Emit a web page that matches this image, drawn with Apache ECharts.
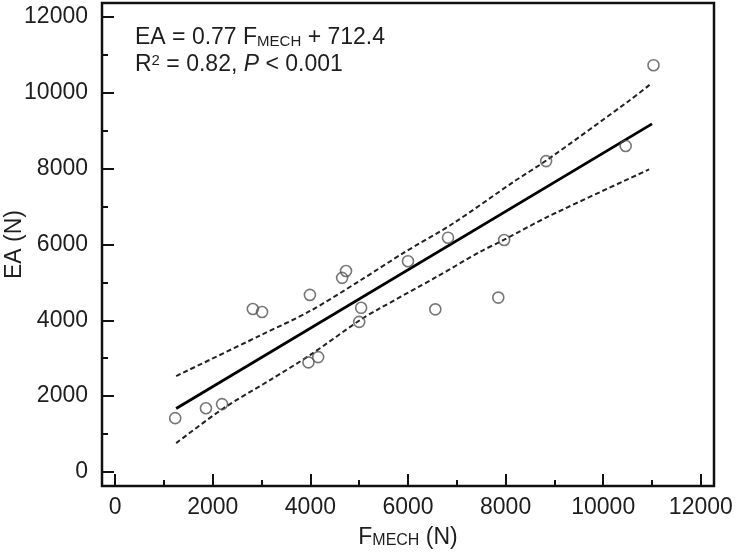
<!DOCTYPE html>
<html>
<head>
<meta charset="utf-8">
<script src="https://cdn.jsdelivr.net/npm/echarts@6/dist/echarts.min.js"></script>
<style>
  html,body{margin:0;padding:0;background:#fff;}
  #chart{width:740px;height:558px;}
</style>
</head>
<body>
<div id="chart"></div>
<script>
// measured points (F_MECH, EA)
var fMech = [1230, 1860, 2190, 2820, 3010, 3990, 3960, 4160, 5040, 5000, 4650, 4730, 6000, 6820, 7970, 6560, 7850, 8830, 10460, 11030];
var eaVal = [1420, 1680, 1790, 4300, 4220, 4670, 2890, 3030, 4330, 3960, 5120, 5300, 5560, 6180, 6120, 4290, 4600, 8200, 8600, 10730];

// fitted line
var fitX = [1250, 11000];
var fitY = [1675, 9182];

// confidence band
var upperX = [1250, 2970, 4000, 5020, 5910, 6930, 8160, 8850, 10550, 10950];
var upperY = [2530, 3600, 4250, 5050, 5780, 6560, 7650, 8230, 9810, 10210];
var lowerX = [1250, 2220, 3180, 4000, 5020, 5360, 6590, 7480, 7960, 8910, 10940];
var lowerY = [760, 1680, 2430, 3090, 4010, 4270, 5150, 5810, 6120, 6760, 7980];

var majorTicks = [0, 2000, 4000, 6000, 8000, 10000, 12000];
var minorTicks = [1000, 3000, 5000, 7000, 9000, 11000];

function pairs(xs, ys){
    var out = [];
    for (var i = 0; i < xs.length; i++) out.push([xs[i], ys[i]]);
    return out;
}

var font = "'Liberation Sans', Arial, sans-serif";
var ink = '#1e1e1e';

function axis(kind, lo, hi, isMajor, extra){
    var a = {
        type: 'value',
        gridIndex: 0,
        min: lo,
        max: hi,
        position: kind == 'x' ? 'bottom' : 'left',
        offset: 0,
        axisLine: {show: false, onZero: false},
        splitLine: {show: false},
        axisTick: {
            show: true, inside: true,
            length: isMajor ? 12 : 6,
            customValues: isMajor ? majorTicks : minorTicks,
            lineStyle: {color: '#111', width: 2}
        },
        axisLabel: isMajor ? {
            show: true,
            customValues: majorTicks,
            color: ink, fontSize: 23, fontFamily: font,
            margin: kind == 'x' ? 10 : 14,
            formatter: function(v){ return String(v); }
        } : {show: false}
    };
    return Object.assign(a, extra || {});
}

var chart = echarts.init(document.getElementById('chart'));
chart.setOption({
    animation: false,
    backgroundColor: '#fff',
    textStyle: {fontFamily: font},
    grid: {
        left: 102, right: 26, top: 3, bottom: 72,
        containLabel: false,
        outerBoundsMode: 'none',
        show: true, borderColor: '#111', borderWidth: 2.5, backgroundColor: 'transparent'
    },
    xAxis: [
        axis('x', -270, 12270, true, {
            name: 'F{sub|MECH} (N)',
            nameLocation: 'middle',
            nameGap: 40,
            nameMoveOverlap: false,
            nameTextStyle: {
                color: ink, fontSize: 23, fontFamily: font,
                rich: {sub: {fontSize: 16, color: ink, verticalAlign: 'bottom', lineHeight: 12, fontFamily: font}}
            }
        }),
        axis('x', -270, 12270, false)
    ],
    yAxis: [
        axis('y', -370, 12370, true, {
            name: 'EA (N)',
            nameLocation: 'middle',
            nameGap: 76,
            nameMoveOverlap: false,
            nameTextStyle: {color: ink, fontSize: 23, fontFamily: font}
        }),
        axis('y', -370, 12370, false)
    ],
    graphic: [
        {
            type: 'text',
            left: 135,
            top: 26,
            style: {
                text: 'EA = 0.77 F{sub|MECH} + 712.4',
                fontSize: 23,
                fontFamily: font,
                fill: ink,
                rich: {sub: {fontSize: 15, fill: ink, verticalAlign: 'bottom', lineHeight: 12, fontFamily: font}}
            }
        },
        {
            type: 'text',
            left: 135,
            top: 53,
            style: {
                text: 'R{sup|2} = 0.82, {it|P} < 0.001',
                fontSize: 23,
                fontFamily: font,
                fill: ink,
                rich: {
                    sup: {fontSize: 15, fill: ink, verticalAlign: 'top', lineHeight: 15, fontFamily: font},
                    it: {fontSize: 23, fill: ink, fontStyle: 'italic', fontFamily: font}
                }
            }
        }
    ],
    series: [
        {
            type: 'line',
            data: pairs(upperX, upperY),
            smooth: 0.3,
            symbol: 'none',
            lineStyle: {color: '#222', width: 2, type: [5, 3]},
            z: 2
        },
        {
            type: 'line',
            data: pairs(lowerX, lowerY),
            smooth: 0.3,
            symbol: 'none',
            lineStyle: {color: '#222', width: 2, type: [5, 3]},
            z: 2
        },
        {
            type: 'line',
            data: pairs(fitX, fitY),
            symbol: 'none',
            lineStyle: {color: '#000', width: 2.8},
            z: 3
        },
        {
            type: 'scatter',
            data: pairs(fMech, eaVal),
            symbol: 'circle',
            symbolSize: 11,
            itemStyle: {color: 'rgba(255,255,255,0)', borderColor: '#555', borderWidth: 1.6},
            z: 4
        }
    ]
});
</script>
</body>
</html>
